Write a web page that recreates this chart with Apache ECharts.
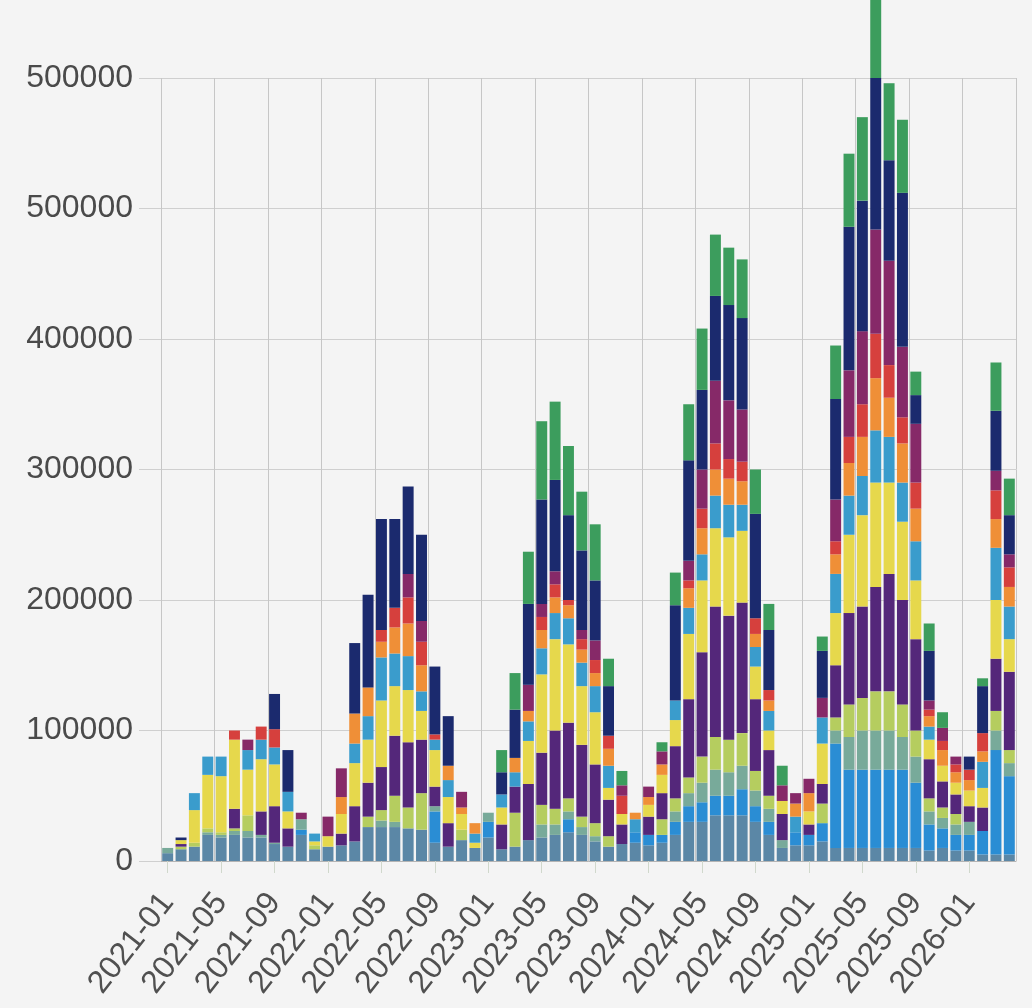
<!DOCTYPE html>
<html>
<head>
<meta charset="utf-8">
<script src="https://cdn.jsdelivr.net/npm/echarts@6/dist/echarts.min.js"></script>
<style>
html,body{margin:0;padding:0;background:#f4f4f4;}
#chart{width:1032px;height:1008px;}
</style>
</head>
<body>
<div id="chart"></div>
<script>
// Monthly categories 2021-01 .. 2026-04
const months = ['2021-01','2021-02','2021-03','2021-04','2021-05','2021-06','2021-07','2021-08','2021-09','2021-10','2021-11','2021-12',
'2022-01','2022-02','2022-03','2022-04','2022-05','2022-06','2022-07','2022-08','2022-09','2022-10','2022-11','2022-12',
'2023-01','2023-02','2023-03','2023-04','2023-05','2023-06','2023-07','2023-08','2023-09','2023-10','2023-11','2023-12',
'2024-01','2024-02','2024-03','2024-04','2024-05','2024-06','2024-07','2024-08','2024-09','2024-10','2024-11','2024-12',
'2025-01','2025-02','2025-03','2025-04','2025-05','2025-06','2025-07','2025-08','2025-09','2025-10','2025-11','2025-12',
'2026-01','2026-02','2026-03','2026-04'];

const yTickLabels = ['0','100000','200000','300000','400000','500000','500000'];

// Series values, in thousands (stack order bottom -> top)
const steelK   = [6,9,11,20,18,20,18,18,13,11,20,9, 11,12,15,26,26,26,25,24,14,11,16,10, 18,9,11,16,18,20,22,20,15,11,13,14, 12,14,20,30,30,35,35,35,30,20,10,12, 12,15,10,10,10,10,10,10,10,8,10,8, 8,5,5,5];
const blueK    = [0,0,0,0,0,0,0,0,0,0,4,0, 0,0,0,0,0,0,0,0,24,0,0,0, 12,0,0,0,0,0,10,0,0,0,0,8, 8,6,10,12,15,15,15,20,12,10,0,10, 8,14,80,60,60,60,60,60,50,20,15,12, 12,18,80,60];
const sageK    = [4,0,0,2,2,3,5,2,1,0,8,0, 0,0,0,0,5,4,0,0,4,0,0,0, 7,0,0,0,10,8,6,6,4,0,0,0, 0,0,8,10,15,20,18,18,12,10,6,0, 0,0,10,25,30,30,30,25,20,10,8,8, 10,0,15,10];
const limeK    = [0,2,3,3,2,2,12,0,0,0,0,3, 0,0,0,8,8,20,16,28,0,0,8,0, 0,0,26,0,15,12,10,8,10,8,0,0, 0,12,10,12,20,25,25,25,15,10,0,0, 0,15,10,25,25,30,30,25,20,10,8,8, 0,0,15,10];
const purpleK  = [0,2,0,0,0,15,0,18,28,14,0,0, 0,9,27,26,33,46,50,41,15,18,0,0, 0,19,20,43,40,60,58,55,45,28,15,0, 14,20,40,60,80,100,95,100,55,35,20,0, 8,15,40,70,70,80,90,80,70,30,20,15, 12,18,40,60];
const yellowK  = [0,3,25,41,43,53,35,40,32,13,0,3, 8,15,33,33,51,38,40,22,28,20,12,4, 0,13,0,33,60,70,60,45,40,9,8,0, 9,14,20,50,55,60,60,55,25,15,10,0, 10,31,40,60,70,80,70,60,45,15,12,9, 12,15,45,25];
const skyK     = [0,0,13,14,15,0,15,15,13,15,0,6, 0,0,15,18,33,25,26,15,8,13,0,7, 0,10,11,15,20,20,20,18,20,17,0,10, 0,0,15,20,20,25,25,20,15,15,0,12, 0,20,30,30,30,40,35,30,30,10,0,0, 0,20,40,25];
const orangeK  = [0,0,0,0,0,0,0,0,0,0,0,0, 0,13,23,22,12,20,25,20,0,11,5,8, 0,0,11,8,14,12,10,10,10,13,0,5, 6,8,0,15,20,20,20,18,10,8,0,10, 14,0,15,25,30,40,30,30,25,8,12,8, 8,8,22,15];
const redK     = [0,0,0,0,0,7,0,10,14,0,0,0, 0,0,0,0,9,15,20,18,4,0,0,0, 0,0,0,0,10,10,4,8,10,10,14,0, 0,0,0,6,15,20,15,15,12,8,0,0, 0,0,10,20,25,34,25,20,20,5,7,6, 8,14,22,15];
const magentaK = [0,0,0,0,0,0,8,0,0,0,5,0, 15,22,0,0,0,0,18,16,0,0,12,0, 0,0,0,20,10,10,0,7,15,0,8,0, 8,10,0,15,30,48,45,40,0,0,12,8, 11,15,32,51,56,80,80,54,45,7,10,6, 0,0,15,10];
const navyK    = [0,2,0,0,0,0,0,0,27,32,0,0, 0,0,54,71,85,68,67,66,52,38,0,0, 0,17,37,62,80,70,65,61,46,38,0,0, 0,0,73,77,61,65,73,70,80,46,0,0, 0,36,77,110,100,116,77,118,22,38,0,0, 10,36,46,30];
const greenK   = [0,0,0,0,0,0,0,0,0,0,0,0, 0,0,0,0,0,0,0,0,0,0,0,0, 0,17,28,40,60,60,53,45,43,21,11,0, 0,7,25,43,47,47,44,45,34,20,15,0, 0,11,41,56,64,62,59,56,18,21,12,0, 0,6,37,28];

const seriesDefs = [
  {name:'S1',  data: steelK,   color:'#5b87a6'},
  {name:'S2',  data: blueK,    color:'#2a8dd4'},
  {name:'S3',  data: sageK,    color:'#78aa9a'},
  {name:'S4',  data: limeK,    color:'#b5cd5f'},
  {name:'S5',  data: purpleK,  color:'#54277a'},
  {name:'S6',  data: yellowK,  color:'#e6d84c'},
  {name:'S7',  data: skyK,     color:'#3a9ccc'},
  {name:'S8',  data: orangeK,  color:'#ef8f37'},
  {name:'S9',  data: redK,     color:'#d6403d'},
  {name:'S10', data: magentaK, color:'#862968'},
  {name:'S11', data: navyK,    color:'#1b2a6e'},
  {name:'S12', data: greenK,   color:'#3c9d5d'}
];

const chart = echarts.init(document.getElementById('chart'));
const font = "'Liberation Sans', Arial, sans-serif";
chart.setOption({
  animation: false,
  backgroundColor: '#f4f4f4',
  grid: {left: 161, right: 16, top: 78, bottom: 147, containLabel: false},
  xAxis: {
    type: 'category',
    data: months,
    boundaryGap: true,
    axisLine: {show: true, lineStyle: {color: '#b4b4b4', width: 1}},
    axisTick: {show: true, alignWithLabel: true, interval: 3, length: 12, lineStyle: {color: '#d0d8cc'}},
    axisLabel: {interval: 3, rotate: 52, fontSize: 32, color: '#505050', margin: 36, fontFamily: font},
    splitLine: {show: true, interval: 3, lineStyle: {color: '#c6c6c6', width: 1}}
  },
  yAxis: {
    type: 'value',
    min: 0,
    max: 600000,
    interval: 100000,
    axisLine: {show: false},
    axisTick: {show: true, length: 22, lineStyle: {color: '#cfcfcf'}},
    axisLabel: {
      fontSize: 32, color: '#4a4a4a', margin: 28, fontFamily: font,
      formatter: function (v) { return yTickLabels[Math.round(v / 100000)]; }
    },
    splitLine: {show: true, lineStyle: {color: '#cfcfcf', width: 1}}
  },
  series: seriesDefs.map(s => ({
    name: s.name,
    type: 'bar',
    stack: 'total',
    clip: false,
    barCategoryGap: '18%',
    itemStyle: {color: s.color},
    data: s.data.map(v => v * 1000)
  }))
});
</script>
</body>
</html>
